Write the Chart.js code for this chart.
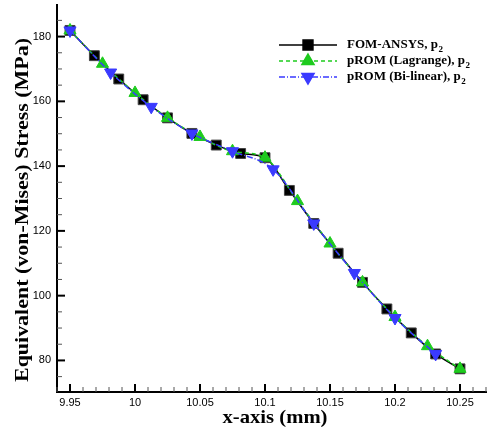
<!DOCTYPE html>
<html>
<head>
<meta charset="utf-8">
<script src="https://cdn.jsdelivr.net/npm/chart.js@4.4.0/dist/chart.umd.min.js"></script>
<style>
  html, body { margin: 0; padding: 0; background: #fff; }
</style>
</head>
<body>
<canvas id="myChart" width="487" height="432"></canvas>
<script>
// Data
const fomX = [9.95, 9.96875, 9.9875, 10.00625, 10.025, 10.04375, 10.0625, 10.08125, 10.1,
              10.11875, 10.1375, 10.15625, 10.175, 10.19375, 10.2125, 10.23125, 10.25];
const fomY = [181.9, 174.1, 166.9, 160.5, 154.9, 150.1, 146.5, 143.9, 142.6,
              132.5, 122.3, 113.1, 104.1, 95.9, 88.5, 82.0, 77.4];

const lagX = [9.95, 9.975, 10, 10.025, 10.05, 10.075, 10.1, 10.125, 10.15, 10.175, 10.2, 10.225, 10.25];
const lagY = [181.9, 171.6, 162.6, 154.9, 149.0, 144.6, 142.6, 129.2, 116.1, 104.1, 93.4, 84.4, 77.4];

const bilX = [9.95, 9.98125, 10.0125, 10.04375, 10.075, 10.10625, 10.1375, 10.16875, 10.2, 10.23125];
const bilY = [181.9, 168.9, 158.3, 150.1, 144.6, 139.0, 122.3, 107.0, 93.1, 82.0];

const seriesNames = ['FOM-ANSYS, p', 'pROM (Lagrange), p', 'pROM (Bi-linear), p'];
const xTitle = 'x-axis (mm)';
const yTitle = 'Equivalent (von-Mises) Stress (MPa)';

const GREEN = '#1ecb1e';
const BLUE = '#3a3aff';
const SERIF = '"Liberation Serif", "Times New Roman", serif';

function toPoints(xs, ys) {
    return xs.map((x, i) => ({ x: x, y: ys[i] }));
}

// text stretched to a given length, like the Tecplot export
function stretchedText(ctx, text, x, y, targetWidth) {
    const w = ctx.measureText(text).width;
    ctx.save();
    ctx.translate(x, y);
    ctx.scale(targetWidth / w, 1);
    ctx.textAlign = 'center';
    ctx.fillText(text, 0, 0);
    ctx.restore();
}

// Legend style definitions
const legendItems = [
    { text: seriesNames[0], color: '#000', dash: [], style: 'rect', radius: 7, rotation: 0, border: '#000' },
    { text: seriesNames[1], color: GREEN, dash: [4, 3], style: 'triangle', radius: 7, rotation: 0, border: GREEN },
    { text: seriesNames[2], color: BLUE, dash: [6, 2, 1, 2], style: 'triangle', radius: 7, rotation: 180, border: BLUE }
];

// Inward ticks, axis titles and legend
const decorPlugin = {
    id: 'decor',
    afterDraw(chart) {
        const ctx = chart.ctx;
        const xs = chart.scales.x;
        const ys = chart.scales.y;
        const area = chart.chartArea;
        ctx.save();

        // x ticks
        for (let k = 994; k <= 1027; k++) {
            const px = xs.getPixelForValue(k / 100);
            const major = k % 5 === 0;
            ctx.beginPath();
            ctx.lineWidth = major ? 2 : 1;
            ctx.strokeStyle = major ? '#000' : '#555';
            ctx.moveTo(px, area.bottom);
            ctx.lineTo(px, area.bottom - (major ? 8 : 5));
            ctx.stroke();
        }
        // y ticks
        for (let v = 75; v <= 185; v += 5) {
            const py = ys.getPixelForValue(v);
            const major = v % 20 === 0;
            ctx.beginPath();
            ctx.lineWidth = major ? 2 : 1;
            ctx.strokeStyle = major ? '#000' : '#555';
            ctx.moveTo(area.left, py);
            ctx.lineTo(area.left + (major ? 8 : 5), py);
            ctx.stroke();
        }

        // axis titles
        ctx.fillStyle = '#000';
        ctx.textBaseline = 'alphabetic';
        ctx.font = 'bold 19px ' + SERIF;
        stretchedText(ctx, xTitle, 275, 423, 105);
        ctx.save();
        ctx.translate(28, 210);
        ctx.rotate(-Math.PI / 2);
        ctx.font = 'bold 19px ' + SERIF;
        stretchedText(ctx, yTitle, 0, 0, 344);
        ctx.restore();

        // legend
        legendItems.forEach((item, i) => {
            const y = 45 + i * 16;
            ctx.beginPath();
            ctx.setLineDash(item.dash);
            ctx.lineWidth = 1.5;
            ctx.strokeStyle = item.color;
            ctx.moveTo(279, y);
            ctx.lineTo(337, y);
            ctx.stroke();
            ctx.setLineDash([]);
            ctx.fillStyle = item.color;
            ctx.strokeStyle = item.border;
            Chart.helpers.drawPoint(ctx, {
                pointStyle: item.style, radius: item.radius, rotation: item.rotation, borderWidth: 1
            }, 308, y);

            ctx.fillStyle = '#000';
            ctx.font = 'bold 13px ' + SERIF;
            ctx.textAlign = 'left';
            ctx.textBaseline = 'middle';
            ctx.fillText(item.text, 347, y);
            const w = ctx.measureText(item.text).width;
            ctx.font = 'bold 9px ' + SERIF;
            ctx.fillText('2', 347 + w + 0.5, y + 5);
        });
        ctx.restore();
    }
};

const chartData = {
    datasets: [
        {
            label: seriesNames[0],
            data: toPoints(fomX, fomY),
            borderColor: '#000',
            backgroundColor: '#000',
            borderWidth: 1.5,
            pointStyle: 'rect',
            pointRadius: 7,
            pointBorderColor: '#444',
            pointBorderWidth: 1,
            showLine: true,
            cubicInterpolationMode: 'monotone',
            order: 3
        },
        {
            label: seriesNames[1],
            data: toPoints(lagX, lagY),
            borderColor: GREEN,
            backgroundColor: GREEN,
            borderWidth: 1.5,
            borderDash: [4, 3],
            pointStyle: 'triangle',
            pointRadius: 7,
            pointBorderWidth: 1,
            showLine: true,
            cubicInterpolationMode: 'monotone',
            order: 2
        },
        {
            label: seriesNames[2],
            data: toPoints(bilX, bilY),
            borderColor: BLUE,
            backgroundColor: BLUE,
            borderWidth: 1.5,
            borderDash: [6, 2, 1, 2],
            pointStyle: 'triangle',
            pointRotation: 180,
            pointRadius: 7,
            pointBorderWidth: 1,
            showLine: true,
            cubicInterpolationMode: 'monotone',
            order: 1
        }
    ]
};

const tickFont = { family: '"Liberation Sans", Arial, sans-serif', size: 11 };

const chartOptions = {
    responsive: false,
    animation: false,
    layout: { autoPadding: false, padding: { left: 0, right: 1, top: 5, bottom: 0 } },
    plugins: {
        legend: { display: false },
        tooltip: { enabled: false }
    },
    scales: {
        x: {
            type: 'linear',
            min: 9.94,
            max: 10.27,
            grid: { display: false, drawTicks: false },
            border: { display: true, color: '#000', width: 2 },
            ticks: {
                stepSize: 0.05,
                includeBounds: false,
                color: '#000',
                font: tickFont,
                padding: 4,
                maxRotation: 0,
                autoSkip: false,
                callback: v => String(Number(v.toFixed(2)))
            },
            afterFit: scale => {
                scale.height = 40;
                scale.paddingLeft = 0;
                scale.paddingRight = 0;
            }
        },
        y: {
            type: 'linear',
            min: 70.25,
            max: 189.75,
            grid: { display: false, drawTicks: false },
            border: { display: true, color: '#000', width: 2 },
            ticks: {
                stepSize: 20,
                includeBounds: false,
                color: '#000',
                font: tickFont,
                padding: 6
            },
            afterFit: scale => {
                scale.width = 57;
                scale.paddingTop = 0;
                scale.paddingBottom = 0;
            }
        }
    }
};

new Chart(document.getElementById('myChart'), {
    type: 'scatter',
    data: chartData,
    options: chartOptions,
    plugins: [decorPlugin]
});
</script>
</body>
</html>
